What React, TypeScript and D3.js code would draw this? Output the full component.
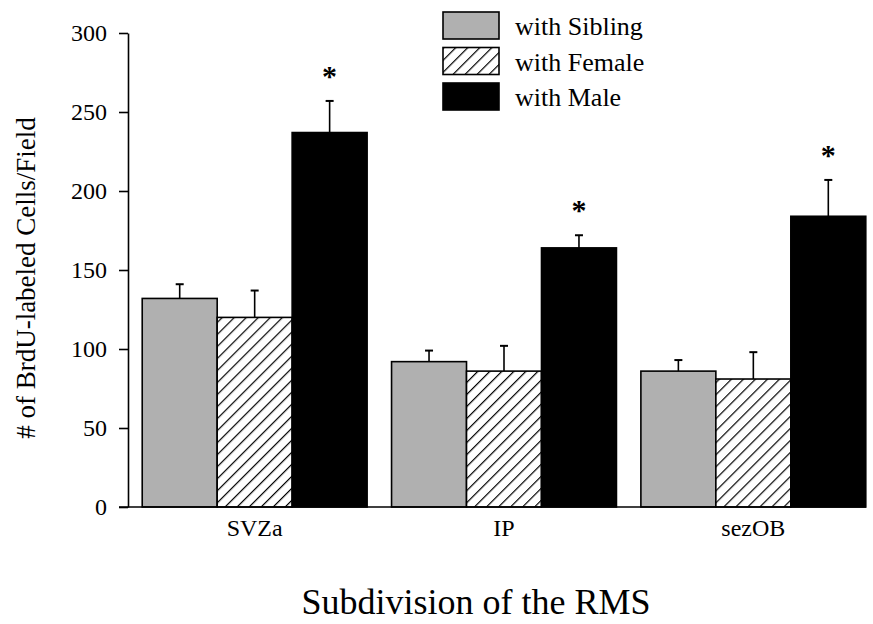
import React, { useEffect, useRef } from "react";
import * as d3 from "d3";

const categories = ["SVZa", "IP", "sezOB"];
const seriesNames = ["with Sibling", "with Female", "with Male"];
const sibling = [132, 92, 86];
const siblingErr = [9, 7, 7];
const female = [120, 86, 81];
const femaleErr = [17, 16, 17];
const male = [237, 164, 184];
const maleErr = [20, 8, 23];
const maleSig = [true, true, true];
const yTicks = [0, 50, 100, 150, 200, 250, 300];

const serif = "'Liberation Serif', 'Times New Roman', serif";

export default function App() {
  const ref = useRef<SVGSVGElement>(null);

  useEffect(() => {
    const svg = d3.select(ref.current);
    svg.selectAll("*").remove();

    const width = 873, height = 624;
    const left = 128, bottom = 507, top = 33;

    const defs = svg.append("defs");
    const pat = defs.append("pattern")
      .attr("id", "hatch")
      .attr("patternUnits", "userSpaceOnUse")
      .attr("width", 8.5)
      .attr("height", 8.5)
      .attr("patternTransform", "rotate(45)");
    pat.append("rect").attr("width", 8.5).attr("height", 8.5).attr("fill", "white");
    pat.append("line").attr("x1", 0).attr("y1", 0).attr("x2", 0).attr("y2", 8.5)
      .attr("stroke", "black").attr("stroke-width", 2.4);

    const fills = ["#b0b0b0", "url(#hatch)", "#000"];

    const x0 = d3.scaleBand().domain(categories).range([left, 880])
      .paddingInner(0.098).paddingOuter(0.057);
    const x1 = d3.scaleBand().domain(seriesNames).range([0, x0.bandwidth()]);
    const y = d3.scaleLinear().domain([0, 300]).range([bottom, top]);

    const rows = categories.map((c, i) => ({
      cat: c,
      items: [
        { s: seriesNames[0], v: sibling[i], e: siblingErr[i], sig: false },
        { s: seriesNames[1], v: female[i], e: femaleErr[i], sig: false },
        { s: seriesNames[2], v: male[i], e: maleErr[i], sig: maleSig[i] },
      ],
    }));

    const g = svg.append("g");

    // error bars first (behind bars)
    const groups = g.selectAll("g.grp").data(rows).enter().append("g")
      .attr("class", "grp")
      .attr("transform", (d) => `translate(${x0(d.cat)},0)`);

    groups.selectAll("line.err").data((d) => d.items).enter().append("line")
      .attr("x1", (d) => x1(d.s)! + x1.bandwidth() / 2)
      .attr("x2", (d) => x1(d.s)! + x1.bandwidth() / 2)
      .attr("y1", (d) => y(d.v))
      .attr("y2", (d) => y(d.v + d.e))
      .attr("stroke", "#000").attr("stroke-width", 1.6);
    groups.selectAll("line.cap").data((d) => d.items).enter().append("line")
      .attr("x1", (d) => x1(d.s)! + x1.bandwidth() / 2 - 4)
      .attr("x2", (d) => x1(d.s)! + x1.bandwidth() / 2 + 4)
      .attr("y1", (d) => y(d.v + d.e))
      .attr("y2", (d) => y(d.v + d.e))
      .attr("stroke", "#000").attr("stroke-width", 2);

    groups.selectAll("rect").data((d) => d.items).enter().append("rect")
      .attr("x", (d) => x1(d.s)!)
      .attr("width", x1.bandwidth())
      .attr("y", (d) => y(d.v))
      .attr("height", (d) => bottom - y(d.v))
      .attr("fill", (d, i) => fills[i])
      .attr("stroke", "#000").attr("stroke-width", 1.6);

    groups.selectAll("text.sig").data((d) => d.items.filter((it) => it.sig)).enter().append("text")
      .attr("x", (d) => x1(d.s)! + x1.bandwidth() / 2)
      .attr("y", (d) => y(d.v + d.e) - 15)
      .attr("text-anchor", "middle")
      .attr("font-family", serif).attr("font-size", 30).attr("font-weight", "bold")
      .text("*");

    // y axis
    const yAxis = d3.axisLeft(y).tickValues(yTicks).tickSize(9).tickSizeOuter(0).tickPadding(12);
    const ya = svg.append("g").attr("transform", `translate(${left},0)`).call(yAxis);
    ya.select(".domain").attr("stroke", "#000").attr("stroke-width", 1.6);
    ya.selectAll(".tick line").attr("stroke", "#000").attr("stroke-width", 1.6);
    ya.selectAll(".tick text").attr("font-family", serif).attr("font-size", 24).attr("fill", "#000");

    // x axis
    const xAxis = d3.axisBottom(x0).tickSize(0).tickPadding(12);
    const xa = svg.append("g").attr("transform", `translate(0,${bottom})`).call(xAxis);
    xa.select(".domain").remove();
    xa.append("line").attr("x1", left - 9).attr("x2", 866).attr("y1", 0).attr("y2", 0)
      .attr("stroke", "#000").attr("stroke-width", 1.6);
    xa.selectAll(".tick text").attr("font-family", serif).attr("font-size", 24).attr("fill", "#000");

    // axis titles
    svg.append("text")
      .attr("transform", `translate(35,278) rotate(-90)`)
      .attr("text-anchor", "middle")
      .attr("font-family", serif).attr("font-size", 27)
      .text("# of BrdU-labeled Cells/Field");
    svg.append("text")
      .attr("x", 476).attr("y", 614)
      .attr("text-anchor", "middle")
      .attr("font-family", serif).attr("font-size", 36)
      .text("Subdivision of the RMS");

    // legend
    const leg = svg.append("g").attr("transform", "translate(443,12)");
    const li = leg.selectAll("g").data(seriesNames).enter().append("g")
      .attr("transform", (d, i) => `translate(0,${i * 35.5})`);
    li.append("rect").attr("width", 56).attr("height", 27)
      .attr("fill", (d, i) => fills[i]).attr("stroke", "#000").attr("stroke-width", 1.6);
    li.append("text").attr("x", 72).attr("y", 23)
      .attr("font-family", serif).attr("font-size", 26)
      .text((d) => d);

    svg.attr("width", width).attr("height", height);
  }, []);

  return (
    <svg ref={ref} width={873} height={624} style={{ position: "absolute", left: 0, top: 0, background: "#fff" }} />
  );
}
